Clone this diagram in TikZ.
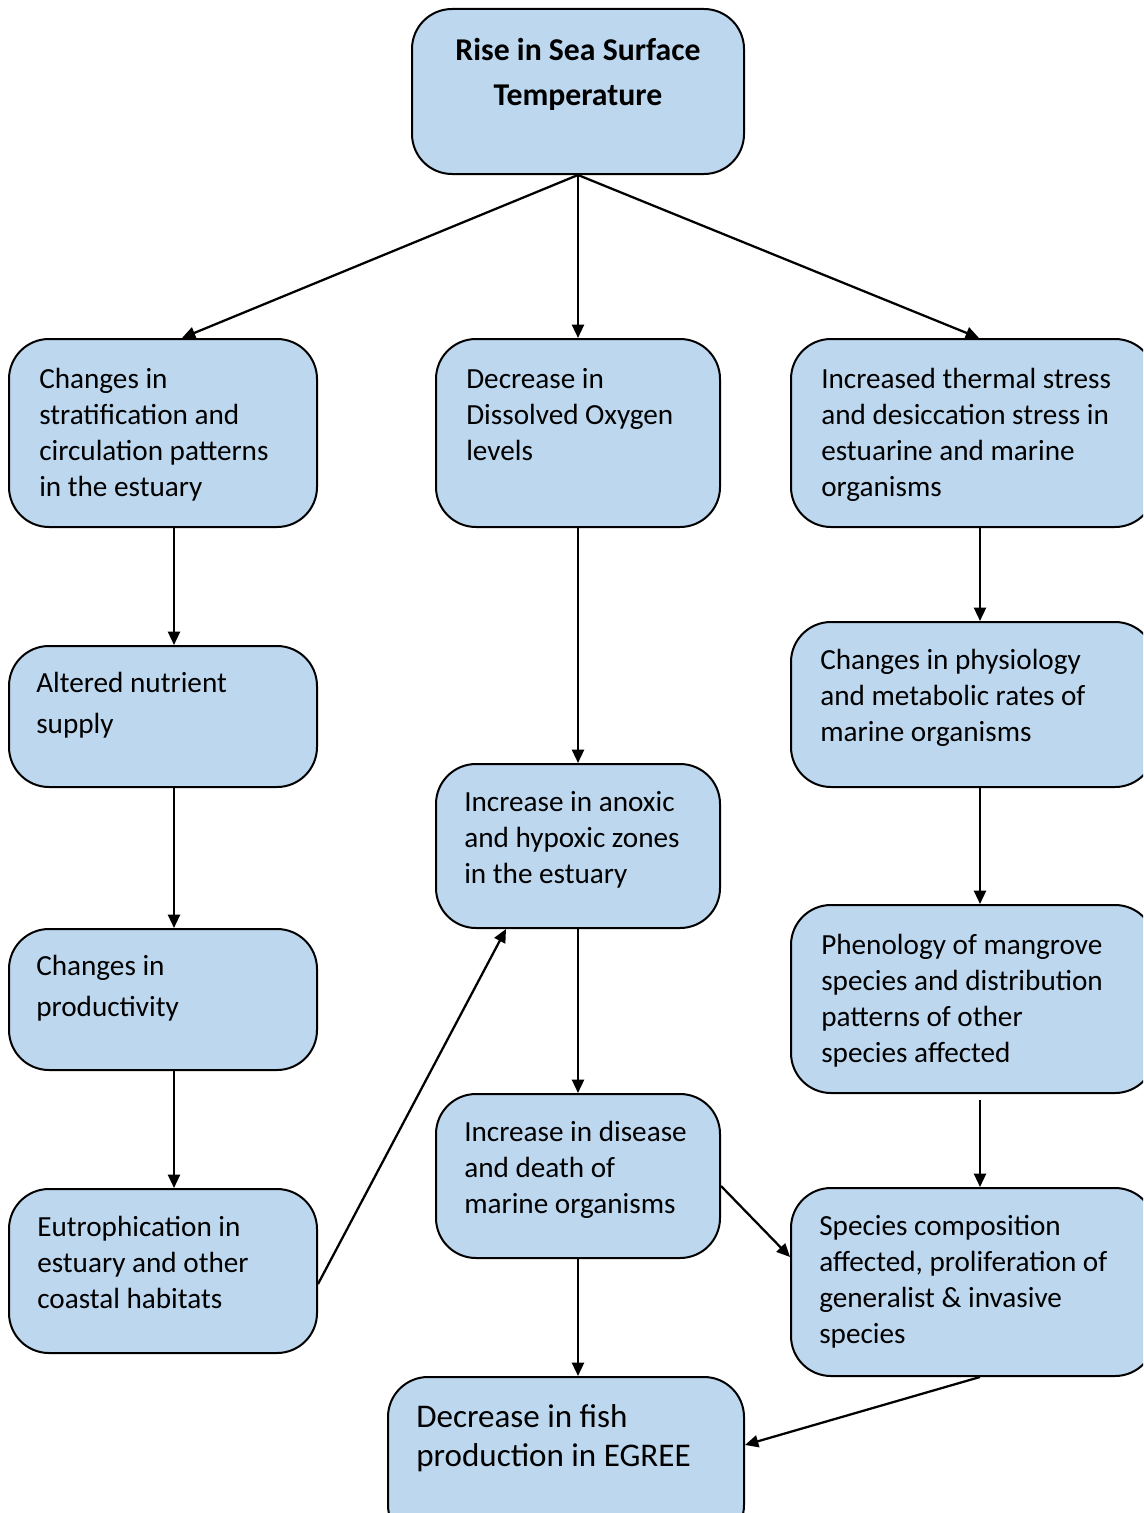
\documentclass[tikz,border=0pt]{standalone}
\usepackage{fontspec}
\setmainfont{Carlito}
\usetikzlibrary{arrows.meta,fit,calc}
\definecolor{boxfill}{RGB}{189,215,238}
\begin{document}
\begin{tikzpicture}[x=0.75pt,y=-0.75pt,
  box/.style={draw=black, line width=1.5pt, fill=boxfill, rounded corners=30pt, inner sep=0pt},
  txt/.style={anchor=north west, inner sep=0pt, align=left, font=\fontsize{21.9}{27}\selectfont},
  arr/.style={line width=1.7pt, -{Triangle[length=10pt,width=9pt]}}]
\clip (0,0) rectangle (1143,1513);
\fill[white] (0,0) rectangle (1143,1513);
% boxes
\node[box, fit={(412,9)(744,174)}] (top) {};
\node[box, fit={(9,339)(317,527)}] (l1) {};
\node[box, fit={(436,339)(720,527)}] (m1) {};
\node[box, fit={(791,339)(1155,527)}] (r1) {};
\node[box, fit={(9,646)(317,787)}] (l2) {};
\node[box, fit={(791,622)(1155,787)}] (r2) {};
\node[box, fit={(436,764)(720,928)}] (m2) {};
\node[box, fit={(9,929)(317,1070)}] (l3) {};
\node[box, fit={(791,905)(1155,1093)}] (r3) {};
\node[box, fit={(436,1094)(720,1258)}] (m3) {};
\node[box, fit={(9,1189)(317,1353)}] (l4) {};
\node[box, fit={(791,1188)(1155,1376)}] (r4) {};
\node[box, fit={(388,1377)(744,1545)}] (bot) {};
% texts
\node[anchor=north, inner sep=0pt, align=center, font=\bfseries\fontsize{23.8}{33.8}\selectfont] (ttop) at (578,38) {Rise in Sea Surface\\Temperature};
\node[txt] (tl1) at (39,368) {Changes in\\stratification and\\circulation patterns\\in the estuary};
\node[txt] (tm1) at (466,368) {Decrease in\\Dissolved Oxygen\\levels};
\node[txt] (tr1) at (821,368) {Increased thermal stress\\and desiccation stress in\\estuarine and marine\\organisms};
\node[txt, font=\fontsize{21.9}{30.8}\selectfont] (tl2) at (36,672) {Altered nutrient\\supply};
\node[txt] (tr2) at (820,649) {Changes in physiology\\and metabolic rates of\\marine organisms};
\node[txt] (tm2) at (464,791) {Increase in anoxic\\and hypoxic zones\\in the estuary};
\node[txt, font=\fontsize{21.9}{30.8}\selectfont] (tl3) at (36,955) {Changes in\\productivity};
\node[txt] (tr3) at (821,934) {Phenology of mangrove\\species and distribution\\patterns of other\\species affected};
\node[txt] (tm3) at (464,1121) {Increase in disease\\and death of\\marine organisms};
\node[txt] (tl4) at (37,1216) {Eutrophication in\\estuary and other\\coastal habitats};
\node[txt] (tr4) at (819,1215) {Species composition\\affected, proliferation of\\generalist \& invasive\\species};
\node[txt, font=\fontsize{24.8}{29.3}\selectfont] (tbot) at (416,1404) {Decrease in fish\\production in EGREE};
% connectors
\draw[arr] (top.south) -- ($(l1.north west)+(174,0)$);
\draw[arr] (top.south) -- (m1.north);
\draw[arr] (top.south) -- ($(r1.north west)+(189,0)$);
\draw[arr] ($(l1.south west)+(166,0)$) -- ($(l2.north west)+(166,0)$);
\draw[arr] ($(l2.south west)+(166,0)$) -- ($(l3.north west)+(166,0)$);
\draw[arr] ($(l3.south west)+(166,0)$) -- ($(l4.north west)+(166,0)$);
\draw[arr] (m1.south) -- (m2.north);
\draw[arr] (m2.south) -- (m3.north);
\draw[arr] ($(r1.south west)+(190,0)$) -- ($(r2.north west)+(190,0)$);
\draw[arr] ($(r2.south west)+(190,0)$) -- ($(r3.north west)+(190,0)$);
\draw[arr] ($(r3.south west)+(190,6)$) -- ($(r4.north west)+(190,0)$);
\draw[arr] ($(l4.south east)+(0,-70)$) -- ($(m2.south west)+(71,0)$);
\draw[arr] ($(m3.north east)+(0,93)$) -- ($(r4.north west)+(0,70)$);
\draw[arr] (m3.south) -- (m3.south |- bot.north);
\draw[arr] ($(r4.south west)+(190,0)$) -- ($(bot.north east)+(0,69)$);
\end{tikzpicture}
\end{document}
